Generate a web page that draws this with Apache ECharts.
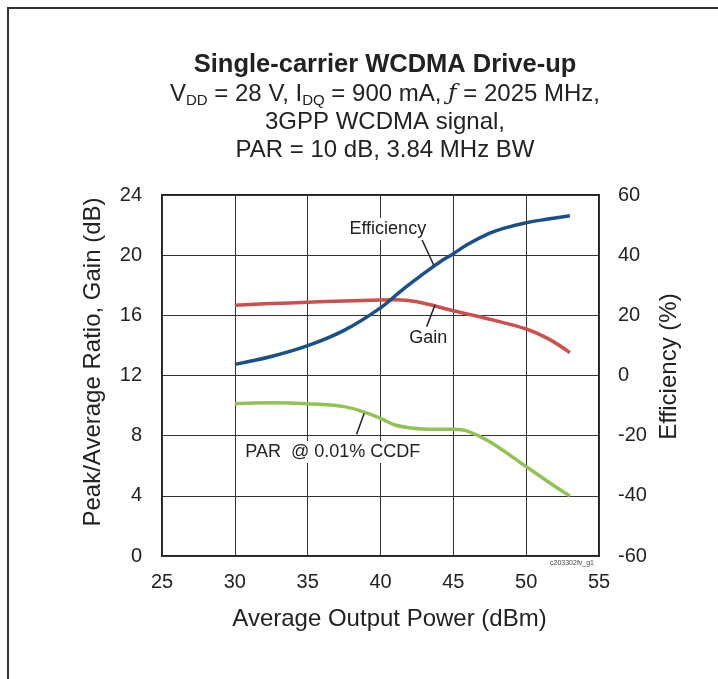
<!DOCTYPE html>
<html>
<head>
<meta charset="utf-8">
<script src="https://cdn.jsdelivr.net/npm/echarts@6/dist/echarts.min.js"></script>
<style>
	html,body{margin:0;padding:0;background:#fff;}
	#chart{width:718px;height:679px;}
</style>
</head>
<body>
<div id="chart"></div>
<script>
	// values
	var effX = [30, 32.5, 35, 37.5, 40, 41.5, 43, 44, 45, 46, 47.5, 48.5, 50, 51.5, 53];
	var effY = [3.7, 6.3, 9.9, 15.0, 22.5, 28.5, 34, 37.5, 40.5, 43.6, 47.3, 49, 50.8, 52, 53.1];

	var gainX = [30, 32.5, 35, 37.5, 40, 41, 42.5, 45, 47.5, 50, 51.5, 53];
	var gainY = [16.67, 16.78, 16.87, 16.95, 17.02, 17.03, 16.9, 16.3, 15.74, 15.09, 14.45, 13.52];

	var parX = [30, 32.5, 35, 37.5, 39, 40, 41, 42, 43.5, 45, 46, 47.5, 50, 51.5, 53];
	var parY = [10.13, 10.19, 10.13, 9.93, 9.53, 9.15, 8.71, 8.53, 8.42, 8.42, 8.29, 7.6, 5.94, 4.94, 3.99];

	function pairs(xs, ys){
		var out = [];
		for(var i=0;i<xs.length;i++){
			out.push([xs[i], ys[i]]);
		}
		return out;
	}

	var font = 'Liberation Sans, Arial, sans-serif';
	var chart = echarts.init(document.getElementById('chart'));

	var option = {
		backgroundColor: '#fff',
		animation: false,
		textStyle: {fontFamily: font, color: '#222'},
		title: {
			left: 380,
			top: 47,
			textAlign: 'center',
			text: 'Single-carrier WCDMA Drive-up',
			textStyle: {fontFamily: font, fontWeight: 'bold', fontSize: 25.5, color: '#222'},
			itemGap: 2,
			subtext: '{n|V}{s|DD}{n| = 28 V, I}{s|DQ}{n| = 900 mA, }{i|ƒ}{n| = 2025 MHz,}\n{n|3GPP WCDMA signal,}\n{n|PAR = 10 dB, 3.84 MHz BW}',
			subtextStyle: {
				fontFamily: font,
				color: '#222',
				rich: {
					n: {fontFamily: font, fontSize: 24, color: '#222', lineHeight: 28},
					s: {fontFamily: font, fontSize: 15, color: '#222', lineHeight: 28, verticalAlign: 'bottom'},
					i: {fontFamily: 'DejaVu Serif', fontStyle: 'italic', fontSize: 23, color: '#222', lineHeight: 28}
				}
			}
		},
		grid: {
			left: 162,
			top: 195,
			width: 437,
			height: 361,
			show: true,
			borderColor: '#222',
			borderWidth: 2
		},
		xAxis: {
			type: 'value',
			min: 25,
			max: 55,
			interval: 5,
			name: 'Average Output Power (dBm)',
			nameLocation: 'middle',
			nameGap: 51,
			nameTextStyle: {fontFamily: font, fontSize: 24, color: '#222', padding: [0, 0, 0, 18]},
			axisLine: {show: false},
			axisTick: {show: false},
			axisLabel: {fontFamily: font, fontSize: 20, color: '#222', margin: 16},
			splitLine: {lineStyle: {color: '#333', width: 1}}
		},
		yAxis: [
			{
				type: 'value',
				min: 0,
				max: 24,
				interval: 4,
				name: 'Peak/Average Ratio, Gain (dB)',
				nameLocation: 'middle',
				nameGap: 57,
				nameTextStyle: {fontFamily: font, fontSize: 24, color: '#222', padding: [0, 0, 0, 27]},
				axisLine: {show: false},
				axisTick: {show: false},
				axisLabel: {fontFamily: font, fontSize: 20, color: '#222', margin: 20},
				splitLine: {lineStyle: {color: '#333', width: 1}}
			},
			{
				type: 'value',
				min: -60,
				max: 60,
				interval: 20,
				position: 'right',
				name: 'Efficiency (%)',
				nameLocation: 'middle',
				nameGap: 56,
				nameRotate: 90,
				nameTextStyle: {fontFamily: font, fontSize: 24, color: '#222', padding: [0, 0, 0, 18]},
				axisLine: {show: false},
				axisTick: {show: false},
				axisLabel: {fontFamily: font, fontSize: 20, color: '#222', margin: 19},
				splitLine: {show: false}
			}
		],
		series: [
			{
				name: 'Gain',
				type: 'line',
				yAxisIndex: 0,
				smooth: 0.4,
				symbol: 'none',
				lineStyle: {color: '#c9504e', width: 3.5},
				data: pairs(gainX, gainY),
				z: 3
			},
			{
				name: 'PAR',
				type: 'line',
				yAxisIndex: 0,
				smooth: 0.4,
				symbol: 'none',
				lineStyle: {color: '#92c155', width: 3.5},
				data: pairs(parX, parY),
				z: 3
			},
			{
				name: 'Efficiency',
				type: 'line',
				yAxisIndex: 1,
				smooth: 0.4,
				symbol: 'none',
				lineStyle: {color: '#1b4f8a', width: 3.5},
				data: pairs(effX, effY),
				z: 4
			}
		]
	};
	chart.setOption(option);

	// callouts, given in data units of the left axis, turned into pixels
	var notes = [
		{text: 'Efficiency', at: [40.5, 21.74], from: [42.7, 21.34], to: [43.65, 19.35]},
		{text: 'Gain', at: [43.28, 14.47], from: [43.74, 16.69], to: [43.17, 15.25]},
		{text: 'PAR  @ 0.01% CCDF', at: [36.72, 6.91], from: [38.88, 9.49], to: [38.36, 8.09]}
	];

	function px(p){
		return chart.convertToPixel({xAxisIndex: 0, yAxisIndex: 0}, p);
	}

	var g = [];
	// page frame, only top and left edges show
	g.push({type: 'rect', shape: {x: 8, y: 8, width: 900, height: 900}, style: {fill: 'none', stroke: '#333', lineWidth: 2}, silent: true});
	for(var i=0;i<notes.length;i++){
		var a = px(notes[i].at), b = px(notes[i].from), c = px(notes[i].to);
		g.push({type: 'line', shape: {x1: b[0], y1: b[1], x2: c[0], y2: c[1]}, style: {stroke: '#222', lineWidth: 1.5}, z: 10});
		g.push({
			type: 'text', x: a[0], y: a[1], z: 10,
			style: {
				text: notes[i].text, fontFamily: font, fontSize: 18, fill: '#222',
				align: 'center', verticalAlign: 'middle',
				backgroundColor: '#fff', padding: [2, 3]
			}
		});
	}
	g.push({type: 'text', x: 594, y: 563, style: {text: 'c203302fv_g1', fontFamily: font, fontSize: 7, fill: '#444', align: 'right', verticalAlign: 'middle'}});
	chart.setOption({graphic: g});
</script>
</body>
</html>
